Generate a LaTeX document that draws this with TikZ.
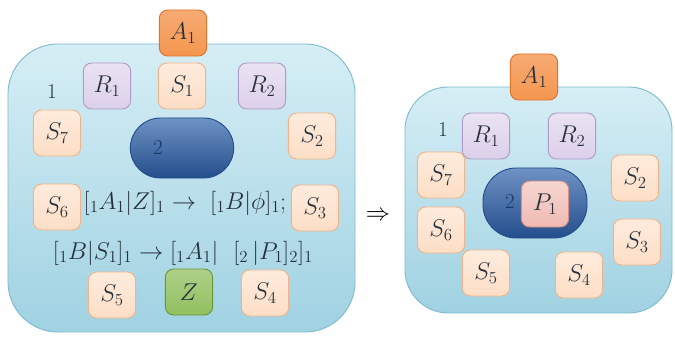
\documentclass[tikz,border=0pt]{standalone}
\usepackage{amsmath,amssymb}
\usepackage{xcolor}
\usepackage{tikz}
\usetikzlibrary{positioning,calc}
\definecolor{membtop}{RGB}{214,238,245}
\definecolor{membbot}{RGB}{160,210,226}
\definecolor{membedge}{RGB}{128,188,208}
\definecolor{peachfill}{RGB}{253,222,198}
\definecolor{peachedge}{RGB}{240,180,140}
\definecolor{lavfill}{RGB}{220,208,234}
\definecolor{lavedge}{RGB}{176,156,200}
\definecolor{orangefill}{RGB}{245,150,80}
\definecolor{orangeedge}{RGB}{220,118,45}
\definecolor{greenfill}{RGB}{146,192,96}
\definecolor{greenedge}{RGB}{104,152,58}
\definecolor{innerblue}{RGB}{62,110,176}
\definecolor{inneredge}{RGB}{36,78,140}
\definecolor{pinkfill}{RGB}{240,186,178}
\definecolor{pinkedge}{RGB}{214,140,130}
\definecolor{labeldark}{RGB}{40,50,60}

\begin{document}
\begin{tikzpicture}[x=0.03cm, y=-0.03cm,
    membrane/.style={rectangle, draw=membedge, thick, top color=membtop, bottom color=membbot, rounded corners=1.5cm},
    inner/.style={rectangle, draw=inneredge, thick, top color=innerblue!75, bottom color=inneredge},
    obj/.style={rectangle, rounded corners=2.5mm, minimum width=1.42cm, minimum height=1.38cm, font=\fontsize{21}{24}\selectfont, text=labeldark, thick},
    sobj/.style={obj, draw=peachedge, top color=peachfill!60, bottom color=peachfill},
    robj/.style={obj, draw=lavedge, top color=lavfill!60, bottom color=lavfill},
    aobj/.style={obj, draw=orangeedge, top color=orangefill!80, bottom color=orangefill},
    zobj/.style={obj, draw=greenedge, top color=greenfill!75, bottom color=greenfill},
    pobj/.style={obj, draw=pinkedge, top color=pinkfill!60, bottom color=pinkfill},
    tag/.style={font=\fontsize{18}{21}\selectfont, text=labeldark},
    rule/.style={font=\fontsize{21}{25}\selectfont, text=labeldark}
]
    \useasboundingbox (0,0) rectangle (675,338);

    % left configuration
    \node[membrane, minimum width=10.41cm, minimum height=8.64cm] (membL) at (181.5,188) {};
    \node[aobj] (aL) at (183,33) {$A_1$};
    \node[tag] (oneL) at (52,92) {1};
    \node[robj] (r1L) at (107,86) {$R_1$};
    \node[sobj] (s1L) at (182,86) {$S_1$};
    \node[robj] (r2L) at (262,86) {$R_2$};
    \node[sobj] (s7L) at (57,133) {$S_7$};
    \node[sobj] (s2L) at (312,136) {$S_2$};
    \node[inner, minimum width=3.1cm, minimum height=1.8cm, rounded corners=0.9cm] (innerL) at (182,148) {};
    \node[tag, text=inneredge!70!black] (twoL) at ($(innerL.west)+(28,0)$) {2};
    \node[sobj] (s6L) at (57,207) {$S_6$};
    \node[sobj] (s3L) at (315,208) {$S_3$};
    \node[rule] (ruleA) at (185,203) {$[{}_1A_1|Z]_1 \rightarrow\ [{}_1B|\phi]_1;$};
    \node[rule] (ruleB) at (183,253) {$[{}_1B|S_1]_1 \rightarrow [{}_1A_1|\ \ [{}_2\,|P_1]_2]_1$};
    \node[sobj] (s5L) at (112,295) {$S_5$};
    \node[zobj] (zL) at (189,292) {$Z$};
    \node[sobj] (s4L) at (265,293) {$S_4$};

    \node[font=\fontsize{20}{24}\selectfont] (step) at (378,216) {$\Rightarrow$};

    % right configuration
    \node[membrane, minimum width=8.01cm, minimum height=6.78cm, rounded corners=1.3cm] (membR) at (538.5,200) {};
    \node[aobj] (aR) at (534,77) {$A_1$};
    \node[tag] (oneR) at (443,130) {1};
    \node[robj] (r1R) at (486,136) {$R_1$};
    \node[robj] (r2R) at (572,136) {$R_2$};
    \node[sobj] (s7R) at (441,175) {$S_7$};
    \node[sobj] (s2R) at (635,178) {$S_2$};
    \node[inner, minimum width=3.12cm, minimum height=2.1cm, rounded corners=1.0cm] (innerR) at (535,203) {};
    \node[tag, text=inneredge!70!black] (twoR) at (510,202) {2};
    \node[pobj] (p1R) at (545,204) {$P_1$};
    \node[sobj] (s6R) at (441,230) {$S_6$};
    \node[sobj] (s3R) at (637,242) {$S_3$};
    \node[sobj] (s5R) at (486,273) {$S_5$};
    \node[sobj] (s4R) at (579,275) {$S_4$};
\end{tikzpicture}
\end{document}
